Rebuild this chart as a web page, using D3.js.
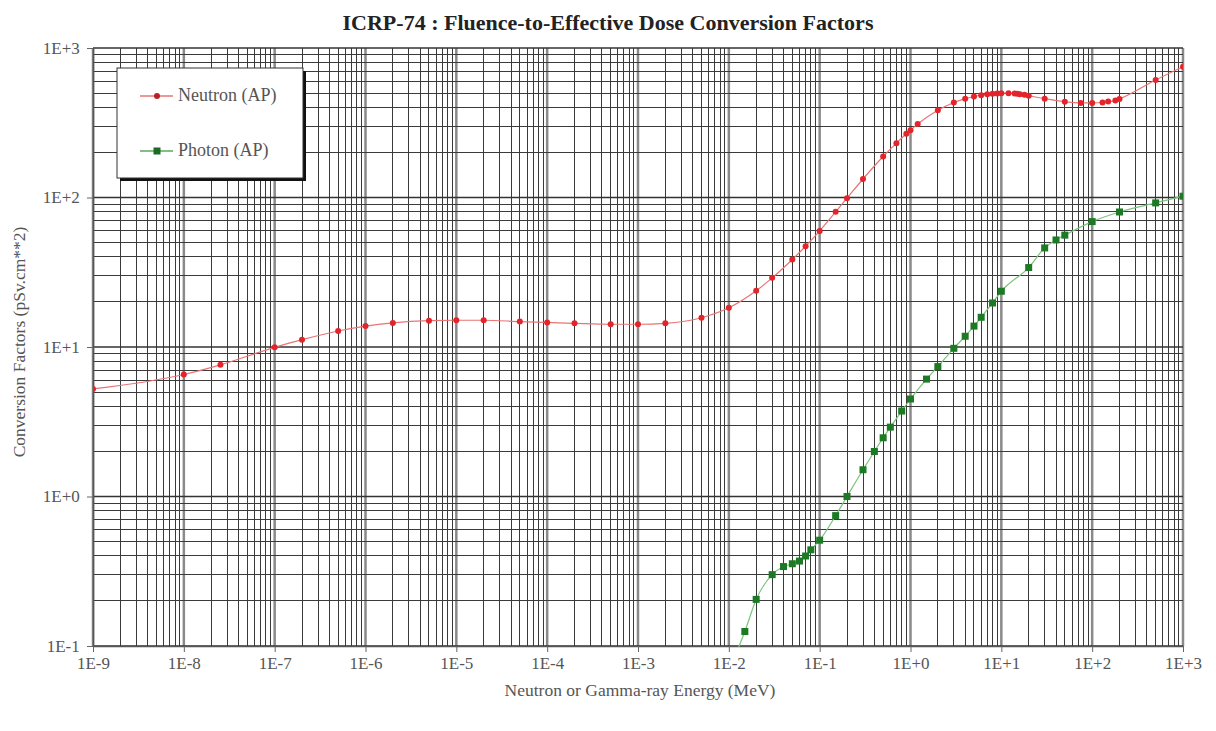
<!DOCTYPE html>
<html>
<head>
<meta charset="utf-8">
<script src="https://cdn.jsdelivr.net/npm/d3@7"></script>
<style>
  html, body { margin: 0; padding: 0; background: #fff; }
  svg { display: block; }
  text { font-family: "Liberation Serif", "Times New Roman", serif; }
</style>
</head>
<body>
<svg id="chart" width="1216" height="731"></svg>
<script>
// ICRP-74 fluence-to-effective dose conversion coefficients, AP geometry (pSv·cm²)
const neutronEnergy = [1e-9, 1e-8, 2.53e-8, 1e-7, 2e-7, 5e-7, 1e-6, 2e-6, 5e-6, 1e-5, 2e-5, 5e-5,
  1e-4, 2e-4, 5e-4, 1e-3, 2e-3, 5e-3, 1e-2, 2e-2, 3e-2, 5e-2, 7e-2, 0.1, 0.15, 0.2, 0.3, 0.5,
  0.7, 0.9, 1.0, 1.2, 2.0, 3.0, 4.0, 5.0, 6.0, 7.0, 8.0, 9.0, 10, 12, 14, 15, 16, 18, 20, 30,
  50, 75, 100, 130, 150, 180, 200, 500, 1000];
const neutronDose = [5.24, 6.55, 7.60, 9.95, 11.2, 12.8, 13.8, 14.5, 15.0, 15.1, 15.1, 14.8,
  14.6, 14.4, 14.2, 14.2, 14.4, 15.7, 18.3, 23.8, 29.0, 38.5, 47.2, 59.8, 80.2, 99.0, 133, 188,
  231, 267, 282, 310, 383, 432, 458, 474, 483, 490, 494, 497, 499, 499, 496, 494, 491, 486, 480, 458,
  437, 429, 429, 432, 438, 445, 456, 611, 750];

const photonEnergy = [0.01, 0.015, 0.02, 0.03, 0.04, 0.05, 0.06, 0.07, 0.08, 0.1, 0.15, 0.2,
  0.3, 0.4, 0.5, 0.6, 0.8, 1.0, 1.5, 2.0, 3.0, 4.0, 5.0, 6.0, 8.0, 10, 20, 30, 40, 50, 100,
  200, 500, 1000];
const photonDose = [0.0685, 0.125, 0.205, 0.300, 0.340, 0.355, 0.370, 0.400, 0.440, 0.510, 0.745, 1.00,
  1.51, 2.00, 2.47, 2.91, 3.73, 4.49, 6.10, 7.40, 9.80, 11.8, 13.8, 15.8, 19.7, 23.6, 34.0, 46.0,
  52.0, 56.0, 69.0, 80.0, 92.0, 102];

const seriesNames = ["Neutron (AP)", "Photon (AP)"];
const xTickValues = [1e-9, 1e-8, 1e-7, 1e-6, 1e-5, 1e-4, 1e-3, 1e-2, 1e-1, 1e0, 1e1, 1e2, 1e3];
const xTickLabels = ["1E-9", "1E-8", "1E-7", "1E-6", "1E-5", "1E-4", "1E-3", "1E-2", "1E-1",
  "1E+0", "1E+1", "1E+2", "1E+3"];
const yTickValues = [0.1, 1, 10, 100, 1000];
const yTickLabels = ["1E-1", "1E+0", "1E+1", "1E+2", "1E+3"];

const titleText = "ICRP-74 : Fluence-to-Effective Dose Conversion Factors";
const xTitle = "Neutron or Gamma-ray Energy (MeV)";
const yTitle = "Conversion Factors (pSv.cm**2)";

const svg = d3.select("#chart");
const plot = { left: 93, right: 1183, top: 48, bottom: 646 };

const x = d3.scaleLog().domain([1e-9, 1e3]).range([plot.left, plot.right]);
const y = d3.scaleLog().domain([0.1, 1000]).range([plot.bottom, plot.top]);

// minor grid values: 2..9 within every decade of each axis
function minorValues(scale) {
  const [lo, hi] = scale.domain().map(Math.log10);
  const out = [];
  for (let e = Math.round(lo); e < Math.round(hi); e++) {
    for (let m = 2; m <= 9; m++) out.push(m * Math.pow(10, e));
  }
  return out;
}

const grid = svg.append("g").attr("class", "grid");

// vertical minor lines
grid.selectAll("line.vminor").data(minorValues(x)).enter().append("line")
  .attr("x1", d => x(d)).attr("x2", d => x(d))
  .attr("y1", plot.top).attr("y2", plot.bottom)
  .attr("stroke", "#3a3a3a").attr("stroke-width", 1).attr("shape-rendering", "crispEdges");
// vertical decade lines (softer, wider)
grid.selectAll("line.vmajor").data(xTickValues).enter().append("line")
  .attr("x1", d => x(d)).attr("x2", d => x(d))
  .attr("y1", plot.top).attr("y2", plot.bottom)
  .attr("stroke", "#8a8a8a").attr("stroke-width", 2.5);
// horizontal minor lines
grid.selectAll("line.hminor").data(minorValues(y)).enter().append("line")
  .attr("y1", d => y(d)).attr("y2", d => y(d))
  .attr("x1", plot.left).attr("x2", plot.right)
  .attr("stroke", "#3a3a3a").attr("stroke-width", 1).attr("shape-rendering", "crispEdges");
// horizontal decade lines
grid.selectAll("line.hmajor").data(yTickValues).enter().append("line")
  .attr("y1", d => y(d)).attr("y2", d => y(d))
  .attr("x1", plot.left).attr("x2", plot.right)
  .attr("stroke", "#333").attr("stroke-width", 1.3);

// axes
const xAxis = d3.axisBottom(x).tickValues(xTickValues)
  .tickFormat((d, i) => xTickLabels[i]).tickSize(6).tickSizeOuter(0);
const yAxis = d3.axisLeft(y).tickValues(yTickValues)
  .tickFormat((d, i) => yTickLabels[i]).tickSize(6).tickSizeOuter(0);

const gx = svg.append("g").attr("transform", `translate(0,${plot.bottom})`).call(xAxis);
const gy = svg.append("g").attr("transform", `translate(${plot.left},0)`).call(yAxis);
[gx, gy].forEach(g => {
  g.select(".domain").attr("stroke", "#555").attr("stroke-width", 1.5);
  g.selectAll(".tick line").attr("stroke", "#666");
  g.selectAll(".tick text").attr("fill", "#555").attr("font-size", 17)
    .attr("font-family", "'Liberation Serif', serif");
});
gx.selectAll(".tick text").attr("dy", "0.85em");
gy.selectAll(".tick text").attr("dx", "-0.25em");

// data
const clip = svg.append("clipPath").attr("id", "plotClip").append("rect")
  .attr("x", plot.left).attr("y", plot.top)
  .attr("width", plot.right - plot.left).attr("height", plot.bottom - plot.top + 1);

const dataLayer = svg.append("g").attr("clip-path", "url(#plotClip)");

const line = d3.line().x(d => x(d[0])).y(d => y(d[1])).curve(d3.curveMonotoneX);

const neutron = d3.zip(neutronEnergy, neutronDose);
const photon = d3.zip(photonEnergy, photonDose);

dataLayer.append("path").datum(neutron).attr("d", line)
  .attr("fill", "none").attr("stroke", "#e87474").attr("stroke-width", 1.2);
dataLayer.append("path").datum(photon).attr("d", line)
  .attr("fill", "none").attr("stroke", "#7cc47c").attr("stroke-width", 1.2);

dataLayer.selectAll("circle.n").data(neutron).enter().append("circle")
  .attr("cx", d => x(d[0])).attr("cy", d => y(d[1])).attr("r", 3)
  .attr("fill", "#e3242b");
dataLayer.selectAll("rect.p").data(photon).enter().append("rect")
  .attr("x", d => x(d[0]) - 3.5).attr("y", d => y(d[1]) - 3.5)
  .attr("width", 7).attr("height", 7).attr("fill", "#1d7a24");

// legend
const legend = svg.append("g").attr("transform", "translate(117,68)");
legend.append("rect").attr("x", 3).attr("y", 3).attr("width", 186).attr("height", 110).attr("fill", "#111");
legend.append("rect").attr("x", 0).attr("y", 0).attr("width", 186).attr("height", 110)
  .attr("fill", "#fff").attr("stroke", "#333").attr("stroke-width", 1);

const legendRows = [
  { name: seriesNames[0], stroke: "#e87474", mark: "#b8202a", shape: "circle", cy: 28 },
  { name: seriesNames[1], stroke: "#5aa85a", mark: "#1d6a24", shape: "square", cy: 83 }
];
legendRows.forEach(r => {
  legend.append("line").attr("x1", 23).attr("x2", 56).attr("y1", r.cy).attr("y2", r.cy)
    .attr("stroke", r.stroke).attr("stroke-width", 1.3);
  if (r.shape === "circle") {
    legend.append("circle").attr("cx", 40).attr("cy", r.cy).attr("r", 3).attr("fill", r.mark);
  } else {
    legend.append("rect").attr("x", 36.5).attr("y", r.cy - 3.5).attr("width", 7).attr("height", 7)
      .attr("fill", r.mark);
  }
  legend.append("text").attr("x", 61).attr("y", r.cy + 5).attr("font-size", 18)
    .attr("fill", "#555").text(r.name);
});

// titles
svg.append("text").attr("x", 608).attr("y", 30).attr("text-anchor", "middle")
  .attr("font-size", 22).attr("font-weight", "bold").attr("fill", "#222").text(titleText);
svg.append("text").attr("x", 640).attr("y", 696).attr("text-anchor", "middle")
  .attr("font-size", 17.5).attr("fill", "#555").text(xTitle);
svg.append("text").attr("transform", "translate(25,342) rotate(-90)").attr("text-anchor", "middle")
  .attr("font-size", 17.5).attr("fill", "#555").text(yTitle);
</script>
</body>
</html>
